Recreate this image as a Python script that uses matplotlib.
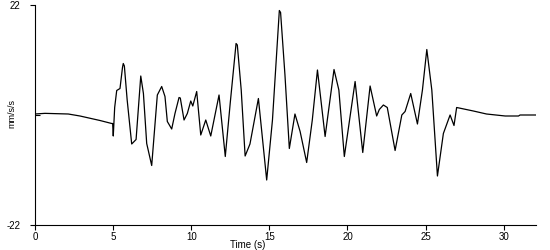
import matplotlib
matplotlib.use('Agg')
import matplotlib.pyplot as plt

plt.rcParams['font.family'] = ['Liberation Sans', 'DejaVu Sans']

# Acceleration trace (time in s, value in mm/s/s)
time_s = [0.0, 0.64, 2.13, 2.88, 4.16, 4.91, 4.97, 5.01, 5.1, 5.23, 5.44, 5.6, 5.65,
          5.72, 5.9, 6.19, 6.47, 6.77, 6.94, 7.15, 7.47, 7.83, 8.11, 8.32, 8.47,
          8.75, 8.96, 9.22, 9.3, 9.54, 9.75, 9.97, 10.1, 10.35, 10.61, 10.93,
          11.25, 11.78, 12.18, 12.5, 12.87, 12.95, 13.2, 13.45, 13.76, 14.3,
          14.83, 15.2, 15.64, 15.72, 16.0, 16.28, 16.64, 16.97, 17.39, 17.75,
          18.08, 18.57, 19.14, 19.45, 19.8, 20.49, 20.98, 21.45, 21.87, 22.04,
          22.3, 22.55, 23.05, 23.48, 23.69, 24.05, 24.48, 24.8, 25.08, 25.4,
          25.76, 26.14, 26.57, 26.82, 26.99, 27.3, 28.06, 28.9, 30.1, 30.95,
          31.05, 32.05]
accel = [0.2, 0.33, 0.2, -0.2, -1.1, -1.7, -1.7, -4.2, 1.5, 4.9, 5.3, 9.5, 10.3,
         9.8, 3.0, -5.8, -4.9, 7.8, 4.3, -5.7, -10.1, 4.0, 5.7, 3.7, -1.3,
         -2.8, 0.3, 3.5, 3.4, -1.0, 0.3, 2.8, 1.8, 4.7, -4.0, -1.0,
         -4.2, 4.0, -8.3, 2.5, 14.3, 14.0, 5.0, -8.2, -5.8, 3.3,
         -13.0, -1.0, 20.9, 20.5, 8.0, -6.7, 0.2, -3.3, -9.5, -1.0,
         9.0, -4.3, 9.1, 5.0, -8.3, 6.7, -7.5, 5.8, -0.2, 1.1,
         2.0, 1.5, -7.1, 0.0, 0.7, 4.3, -1.8, 5.0, 13.1, 5.0,
         -12.2, -3.7, 0.0, -2.1, 1.5, 1.3, 0.8, 0.2, -0.2, -0.2,
         0.0, 0.0]

x_ticks = [0, 5, 10, 15, 20, 25, 30]
y_ticks = [-22, 22]

fig = plt.figure(figsize=(5.5, 2.5), dpi=100)
ax = fig.add_axes([35 / 550, 25 / 250, 500.7 / 550, 220 / 250])

ax.plot(time_s, accel, color='black', linewidth=0.9)

ax.set_xlim(0, 32.05)
ax.set_ylim(-22, 22)
ax.set_xticks(x_ticks)
ax.set_yticks(y_ticks)
ax.set_yticklabels(['-22', '22'])
# small unlabelled mark at zero, pointing into the plot
ax.set_yticks([0], minor=True)

for side in ['top', 'right']:
    ax.spines[side].set_visible(False)
for side in ['left', 'bottom']:
    ax.spines[side].set_linewidth(0.8)
    ax.spines[side].set_color('black')

ax.tick_params(axis='x', direction='out', length=3.6, width=0.8, pad=1.5, labelsize=7)
ax.tick_params(axis='y', which='major', direction='out', length=3.6, width=0.8, pad=7, labelsize=7)
ax.tick_params(axis='y', which='minor', direction='in', length=3.6, width=0.8)

fig.text(248 / 550, 2.5 / 250, 'Time (s)', fontsize=7, ha='center', va='baseline')
fig.text(12 / 550, (250 - 113.5) / 250, 'mm/s/s', fontsize=6.5, rotation=90,
         ha='center', va='center', family=['Liberation Sans Narrow', 'Liberation Sans'])

fig.savefig('out.png', dpi=100)
